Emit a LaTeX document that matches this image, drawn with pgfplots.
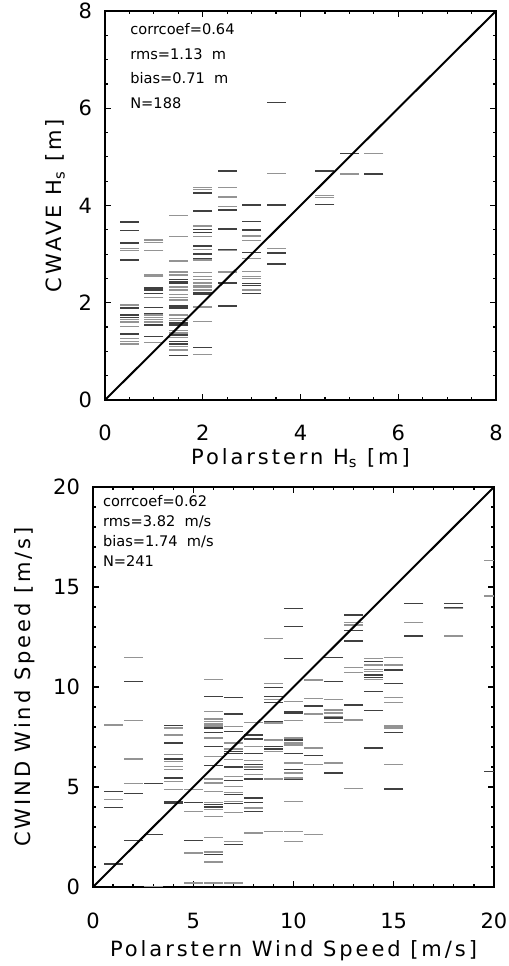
\documentclass[border=0pt]{standalone}
\usepackage{pgfplots}
\pgfplotsset{compat=1.18}
\usepackage{fontspec}
\setmainfont{DejaVu Sans}
\newfontfamily\lblfont[LetterSpace=14]{DejaVu Sans}
\definecolor{dk}{gray}{0.25}
\definecolor{lt}{gray}{0.58}
\pgfplotsset{
  idl/.style={scale only axis, tick align=inside, major tick length=3pt, minor tick length=1.6pt,
    axis line style={line width=0.7pt}, every tick/.style={black, line width=0.6pt},
    /pgf/number format/assume math mode=true,
    tick label style={font=\fontsize{10.5}{12}\selectfont},
    label style={font=\lblfont\fontsize{10.5}{12}\selectfont},
    clip marker paths=true},
  dsh/.style={only marks, mark=-, mark size=4.75pt, mark options={line width=0.7pt}},
}
\begin{document}
\begin{tikzpicture}
\path[use as bounding box] (0,0) rectangle (254.5pt,483pt);
% ---------------- top: Hs ----------------
\begin{axis}[idl, at={(52.5pt,283pt)}, anchor=south west, width=195.5pt, height=194.5pt,
  xmin=0, xmax=8, ymin=0, ymax=8, xtick={0,2,4,6,8}, ytick={0,2,4,6,8}, minor tick num=3,
  xlabel={Polarstern H\textsubscript{s} [m]}, ylabel={CWAVE H\textsubscript{s} [m]},
  xlabel style={at={(rel axis cs:0.5,0)}, anchor=center, yshift=-29pt},
  ylabel style={at={(rel axis cs:0,0.5)}, anchor=center, yshift=25pt},
  xticklabel style={yshift=-9pt}, yticklabel style={xshift=-3pt}]
\addplot[dsh, dk] table {
0.5 3.66
0.5 3.48
0.5 3.24
0.5 3.22
0.5 2.88
0.5 1.89
0.5 1.75
0.5 1.70
0.5 1.36
1.0 2.30
1.0 2.26
1.0 2.19
1.0 1.90
1.0 1.78
1.0 1.54
1.0 1.30
1.5 2.48
1.5 2.43
1.5 2.40
1.5 1.93
1.5 1.89
1.5 1.58
1.5 1.54
1.5 1.34
1.5 1.20
1.5 1.15
1.5 0.91
2.0 4.26
2.0 3.89
2.0 3.51
2.0 3.44
2.0 3.17
2.0 3.00
2.0 2.91
2.0 2.21
2.0 2.18
2.0 1.08
2.5 4.71
2.5 3.91
2.5 3.52
2.5 3.10
2.5 2.41
2.5 1.93
3.0 4.01
3.0 3.67
3.0 3.50
3.0 3.03
3.0 2.40
3.0 2.36
3.0 2.19
3.5 6.12
3.5 4.01
3.5 3.02
3.5 2.80
4.5 4.71
4.5 4.02
5.0 5.07
5.0 4.65
5.5 4.65
};
\addplot[dsh, lt] table {
0.5 3.12
0.5 3.07
0.5 1.95
0.5 1.65
0.5 1.60
0.5 1.51
0.5 1.27
0.5 1.20
0.5 1.15
1.0 3.29
1.0 3.24
1.0 3.07
1.0 2.57
1.0 2.54
1.0 2.11
1.0 1.75
1.0 1.70
1.0 1.65
1.0 1.60
1.0 1.18
1.5 3.79
1.5 3.36
1.5 2.86
1.5 2.63
1.5 2.57
1.5 2.32
1.5 2.26
1.5 2.17
1.5 2.11
1.5 2.06
1.5 1.75
1.5 1.68
1.5 1.63
1.5 1.43
1.5 1.38
1.5 1.29
1.5 1.10
1.5 1.03
2.0 4.37
2.0 4.33
2.0 3.58
2.0 3.36
2.0 3.10
2.0 2.88
2.0 2.62
2.0 2.54
2.0 2.48
2.0 2.41
2.0 2.36
2.0 2.32
2.0 2.26
2.0 1.91
2.0 1.62
2.0 0.94
2.5 4.37
2.5 4.19
2.5 4.17
2.5 3.98
2.5 3.07
2.5 2.63
3.0 3.37
3.0 3.28
3.0 2.91
3.0 2.64
3.0 2.54
3.0 2.50
3.0 2.26
3.5 4.66
3.5 3.12
4.5 4.20
4.5 4.17
5.0 4.65
5.5 5.07
};
\addplot[black, line width=1pt] coordinates {(0,0) (8,8)};
\node[anchor=base west, font=\fontsize{7.3}{8}\selectfont, inner sep=0pt] at (axis cs:0.51,7.51) {corrcoef=0.64};
\node[anchor=base west, font=\fontsize{7.3}{8}\selectfont, inner sep=0pt] at (axis cs:0.51,7.01) {rms=1.13\ \ m};
\node[anchor=base west, font=\fontsize{7.3}{8}\selectfont, inner sep=0pt] at (axis cs:0.51,6.50) {bias=0.71\ \ m};
\node[anchor=base west, font=\fontsize{7.3}{8}\selectfont, inner sep=0pt] at (axis cs:0.51,5.99) {N=188};
\end{axis}
% ---------------- bottom: wind ----------------
\begin{axis}[idl, at={(46.5pt,39.5pt)}, anchor=south west, width=200.5pt, height=200pt,
  xmin=0, xmax=20, ymin=0, ymax=20, xtick={0,5,10,15,20}, ytick={0,5,10,15,20}, minor tick num=4,
  xlabel={Polarstern Wind Speed [m/s]}, ylabel={CWIND Wind Speed [m/s]},
  xlabel style={at={(rel axis cs:0.5,0)}, anchor=center, yshift=-32pt},
  ylabel style={at={(rel axis cs:0,0.5)}, anchor=center, yshift=34pt},
  xticklabel style={yshift=-9.5pt}, yticklabel style={xshift=-3pt}]
\addplot[dsh, dk] table {
1 4.78
1 3.98
1 1.15
2 10.27
2 4.66
2 2.33
3 5.16
3 2.61
4 8.07
4 7.19
4 6.39
4 5.44
4 4.28
4 4.19
5 4.23
5 2.33
6 9.52
6 7.94
6 7.72
6 7.02
6 6.06
6 4.11
6 4.00
6 1.62
7 9.48
7 8.65
7 7.77
7 6.77
7 6.66
7 5.99
7 5.32
7 4.61
7 4.16
7 2.11
8 7.60
8 7.39
8 6.66
8 6.11
8 5.86
8 5.39
8 4.44
8 4.23
8 3.78
9 9.98
9 9.52
9 9.22
9 8.27
9 7.02
9 6.89
10 13.93
10 13.01
10 11.43
10 8.77
10 8.69
10 7.35
10 6.66
10 5.86
10 5.36
11 9.05
11 6.56
12 11.46
12 10.27
12 8.44
12 5.69
13 13.59
13 12.30
13 9.10
13 12.81
14 11.26
14 10.60
14 10.48
14 9.77
14 8.82
14 6.94
15 10.85
15 10.18
15 7.72
15 4.89
16 14.18
16 12.55
18 14.18
18 13.98
20 5.77
};
\addplot[dsh, lt] table {
1 8.10
1 4.36
2 11.48
2 8.32
2 6.39
2 5.16
3 0.03
4 7.94
4 7.60
4 6.61
4 6.27
4 6.02
4 5.86
4 5.27
4 4.86
5 4.86
5 3.78
5 1.70
5 0.20
6 10.38
6 8.77
6 8.39
6 8.27
6 8.15
6 8.05
6 7.44
6 6.52
6 5.39
6 5.19
6 4.78
6 4.23
6 3.86
6 3.53
6 2.48
6 1.75
6 1.25
6 0.20
7 8.02
7 7.19
7 6.89
7 6.36
7 5.52
7 5.02
7 4.73
7 4.28
7 3.73
7 2.28
7 0.20
8 8.22
8 7.02
8 6.32
8 5.99
8 5.61
8 3.94
8 2.70
9 12.43
9 10.18
9 9.38
9 8.19
9 7.35
9 6.77
9 5.39
9 2.78
10 9.27
10 8.32
10 7.44
10 7.19
10 7.10
10 6.19
10 5.69
10 5.44
10 4.28
10 2.78
10 2.28
11 10.35
11 9.43
11 8.65
11 6.94
11 6.11
11 2.61
12 9.38
12 8.85
12 8.69
12 8.52
12 8.22
12 6.19
13 13.21
13 13.09
13 10.98
13 10.73
13 8.35
13 4.93
14 11.43
14 11.10
14 10.88
14 10.77
14 10.38
15 11.46
15 11.10
15 9.48
15 9.22
15 8.05
15 7.94
15 6.11
16 13.21
18 13.93
18 12.55
20 16.31
20 14.54
};
\addplot[black, line width=1pt] coordinates {(0,0) (20,20)};
\node[anchor=base west, font=\fontsize{7.3}{8}\selectfont, inner sep=0pt] at (axis cs:0.48,19.0) {corrcoef=0.62};
\node[anchor=base west, font=\fontsize{7.3}{8}\selectfont, inner sep=0pt] at (axis cs:0.48,18.0) {rms=3.82\ \ m/s};
\node[anchor=base west, font=\fontsize{7.3}{8}\selectfont, inner sep=0pt] at (axis cs:0.48,17.0) {bias=1.74\ \ m/s};
\node[anchor=base west, font=\fontsize{7.3}{8}\selectfont, inner sep=0pt] at (axis cs:0.48,16.0) {N=241};
\end{axis}
\end{tikzpicture}
\end{document}
